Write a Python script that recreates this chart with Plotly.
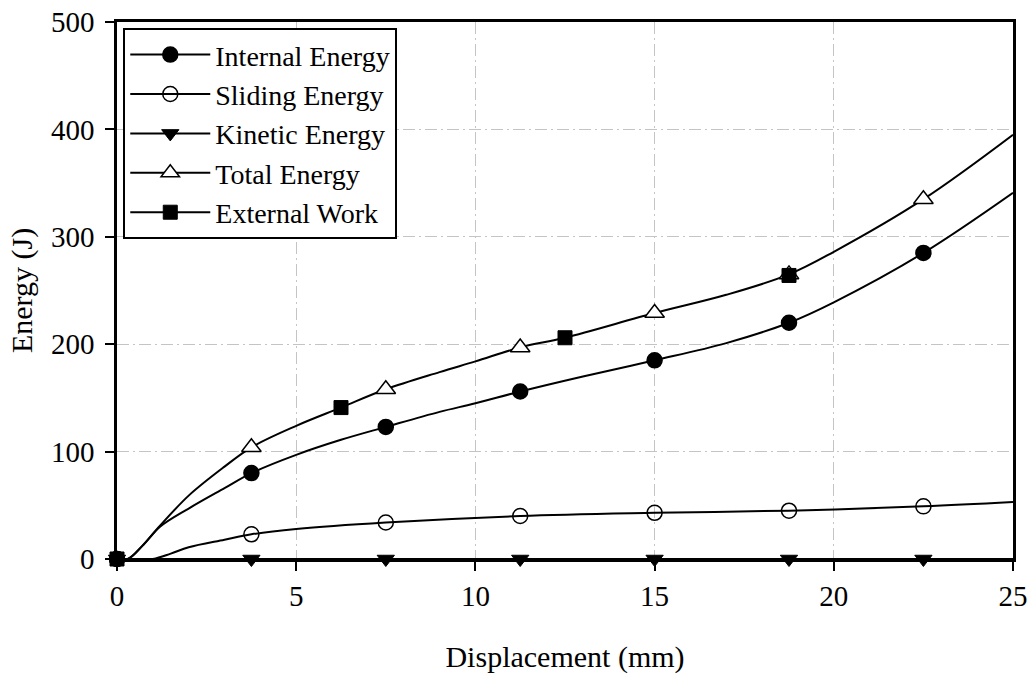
import plotly.graph_objects as go

# Marker positions
x_int = [0, 3.75, 7.5, 11.25, 15, 18.75, 22.5]
y_int = [0, 80, 123, 156, 185, 220, 285]
x_sld = [0, 3.75, 7.5, 11.25, 15, 18.75, 22.5]
y_sld = [0, 23, 34, 40, 43, 45, 49]
x_kin = [0, 3.75, 7.5, 11.25, 15, 18.75, 22.5]
y_kin = [0, 0, 0, 0, 0, 0, 0]
x_tot = [3.75, 7.5, 11.25, 15, 18.75, 22.5]
y_tot = [104, 158, 197, 229, 265, 335]
x_ext = [0, 6.25, 12.5, 18.75]
y_ext = [0, 141, 206, 264]

# Curve traces
cx_int = [0, 0.3, 0.7, 1.2, 2, 3, 3.75, 5, 6.25, 7.5, 9, 10, 11.25, 13, 15, 17, 18.75, 20, 22.5, 25]
cy_int = [0, 0, 12, 30, 47, 66, 80, 97, 111, 123, 137, 145, 156, 170, 185, 201, 220, 239, 285, 341]
cx_sld = [0, 1, 1.5, 2, 3, 3.75, 5, 7.5, 11.25, 15, 18.75, 22.5, 25]
cy_sld = [0, 0, 5, 11, 18, 23, 28, 34, 40, 43, 45, 49, 53]
cx_kin = [0, 25]
cy_kin = [0, 0]
cx_tot = [0, 0.3, 0.7, 1.2, 2, 3, 3.75, 5, 6.25, 7.5, 9, 10, 11.25, 12.5, 15, 17, 18.75, 20, 22.5, 25]
cy_tot = [0, 0, 12, 31, 59, 86, 104, 124, 141, 158, 174, 184, 197, 206, 229, 246, 265, 286, 335, 395]

names = ["Internal Energy", "Sliding Energy", "Kinetic Energy", "Total Energy", "External Work"]
x_ticks = [0, 5, 10, 15, 20, 25]
y_ticks = [0, 100, 200, 300, 400, 500]

FONT = "Liberation Serif"

fig = go.Figure()

curves = [(cx_int, cy_int), (cx_sld, cy_sld), (cx_kin, cy_kin), (cx_tot, cy_tot)]
for cx, cy in curves:
    fig.add_trace(go.Scatter(x=cx, y=cy, mode="lines", line=dict(color="black", width=2, shape="spline", smoothing=1.0),
                             showlegend=False, hoverinfo="skip", cliponaxis=False))

marker_specs = [
    (x_int, y_int, dict(symbol="circle", size=15, color="black", line=dict(color="black", width=1.5))),
    (x_sld, y_sld, dict(symbol="circle-open", size=15, color="black", line=dict(color="black", width=1.5))),
    (x_kin, y_kin, dict(symbol="triangle-down", size=15, color="black", line=dict(color="black", width=1))),
    (x_tot, y_tot, dict(symbol="triangle-up", size=17, color="white", line=dict(color="black", width=1.5))),
    (x_ext, y_ext, dict(symbol="square", size=14, color="black", line=dict(color="black", width=1))),
]
for (mx, my, mk), nm in zip(marker_specs, names):
    fig.add_trace(go.Scatter(x=mx, y=my, mode="markers", marker=mk, showlegend=False, cliponaxis=False, name=nm))

for (mx, my, mk), nm in zip(marker_specs, names):
    fig.add_trace(go.Scatter(x=[None], y=[None], mode="lines+markers", marker=mk,
                             line=dict(color="black", width=2), name=nm, showlegend=True))

fig.update_layout(
    width=1034, height=675,
    margin=dict(l=117, r=21, t=22, b=116),
    paper_bgcolor="white", plot_bgcolor="white",
    font=dict(family=FONT, size=29, color="black"),
    legend=dict(x=0.007, y=0.989, xanchor="left", yanchor="top",
                bordercolor="black", borderwidth=2, bgcolor="white",
                font=dict(family=FONT, size=28), itemwidth=80,
                tracegroupgap=0),
    xaxis=dict(range=[0, 25], tickvals=x_ticks, ticks="outside", ticklen=9, tickwidth=1.5,
               tickcolor="black", showline=True, linecolor="black", linewidth=2.5, mirror=True,
               showgrid=True, gridcolor="#c4c4c4", gridwidth=1, griddash="12px,4px,2px,4px",
               zeroline=False, tickfont=dict(family=FONT, size=29), automargin=False,
               title=dict(text="Displacement (mm)", standoff=36, font=dict(family=FONT, size=30))),
    yaxis=dict(range=[0, 500], tickvals=y_ticks, ticks="outside", ticklen=9, tickwidth=1.5,
               tickcolor="black", showline=True, linecolor="black", linewidth=2.5, mirror=True,
               showgrid=True, gridcolor="#c4c4c4", gridwidth=1, griddash="12px,4px,2px,4px",
               zeroline=False, tickfont=dict(family=FONT, size=29), ticklabelstandoff=5, automargin=False,
               title=dict(text="Energy (J)", standoff=10, font=dict(family=FONT, size=30))),
)

fig.write_html("out.html")
